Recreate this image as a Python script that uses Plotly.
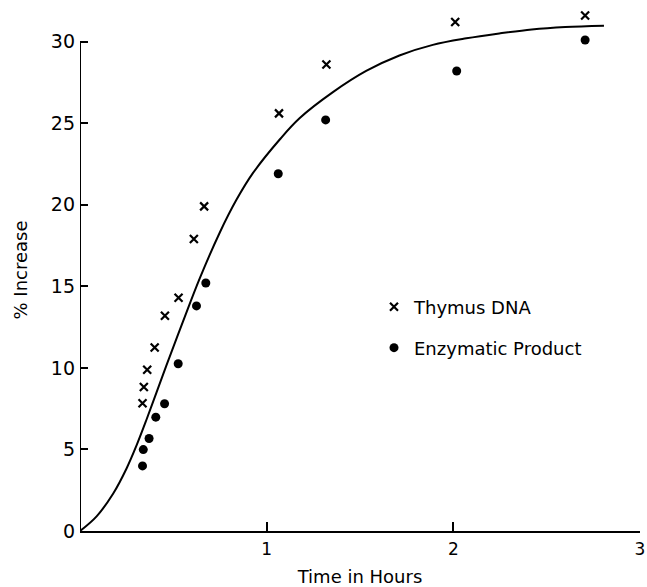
import plotly.graph_objects as go

# Data
thymus_t = [0.335, 0.342, 0.36, 0.40, 0.455, 0.528, 0.61, 0.665, 1.066, 1.32, 2.01, 2.706]
thymus_v = [7.83, 8.83, 9.88, 11.25, 13.2, 14.3, 17.9, 19.9, 25.6, 28.6, 31.2, 31.6]

enz_t = [0.335, 0.339, 0.37, 0.406, 0.453, 0.526, 0.624, 0.674, 1.062, 1.316, 2.018, 2.706]
enz_v = [3.99, 4.99, 5.67, 6.98, 7.8, 10.25, 13.8, 15.2, 21.9, 25.2, 28.2, 30.1]

curve_t = [0, 0.089, 0.178, 0.25, 0.303, 0.357, 0.41, 0.463, 0.552, 0.642, 0.749,
           0.838, 0.927, 1.07, 1.176, 1.355, 1.533, 1.711, 1.89, 2.07, 2.246, 2.42, 2.6, 2.807]
curve_v = [0, 0.9, 2.3, 3.85, 5.25, 6.85, 8.5, 10.15, 12.85, 15.5, 18.3,
           20.3, 21.95, 24.0, 25.3, 26.9, 28.2, 29.15, 29.8, 30.2, 30.5, 30.75, 30.9, 30.98]

x_ticks = [1, 2, 3]
y_ticks = [0, 5, 10, 15, 20, 25, 30]

FONT = "DejaVu Sans"

fig = go.Figure()
fig.add_trace(go.Scatter(
    x=curve_t, y=curve_v, mode="lines", line=dict(color="black", width=2, shape="spline"),
    showlegend=False, hoverinfo="skip", cliponaxis=False))
fig.add_trace(go.Scatter(
    x=thymus_t, y=thymus_v, mode="markers", name="Thymus DNA",
    marker=dict(symbol="x-thin", size=8, line=dict(color="black", width=2.2), color="black"),
    cliponaxis=False, legend="legend"))
fig.add_trace(go.Scatter(
    x=enz_t, y=enz_v, mode="markers", name="Enzymatic Product",
    marker=dict(symbol="circle", size=9, color="black"),
    cliponaxis=False, legend="legend2"))

# y axis line drawn only from 0 to 30 (the data range above 30 holds the top points)
fig.add_shape(type="line", xref="x", yref="y", x0=0, x1=0, y0=y_ticks[0], y1=y_ticks[-1],
              line=dict(color="black", width=2), layer="above")

fig.update_layout(
    width=647, height=587,
    margin=dict(l=80, r=7, t=9, b=56),
    paper_bgcolor="white", plot_bgcolor="white",
    font=dict(family=FONT, color="black"),
    xaxis=dict(range=[0, 3], tickvals=x_ticks, ticktext=[str(v) for v in x_ticks],
               automargin=False,
               showline=True, linecolor="black", linewidth=2, showgrid=False, zeroline=False,
               ticks="inside", ticklen=9, tickwidth=2, tickcolor="black",
               tickfont=dict(size=17, family=FONT), ticklabelstandoff=2,
               title=dict(text="Time in Hours", font=dict(size=18, family=FONT), standoff=12)),
    yaxis=dict(range=[0, 32], tickvals=y_ticks, automargin=False,
               showline=False, showgrid=False, zeroline=False,
               ticks="inside", ticklen=8, tickwidth=2, tickcolor="black",
               tickfont=dict(size=19, family=FONT), ticklabelstandoff=4,
               title=dict(text="% Increase", font=dict(size=18, family=FONT), standoff=18)),
    legend=dict(x=0.525, y=0.429, xanchor="left", yanchor="middle",
                font=dict(size=18, family=FONT), bgcolor="rgba(0,0,0,0)"),
    legend2=dict(x=0.525, y=0.3506, xanchor="left", yanchor="middle",
                 font=dict(size=18, family=FONT), bgcolor="rgba(0,0,0,0)"),
)

fig.write_html("out.html")
